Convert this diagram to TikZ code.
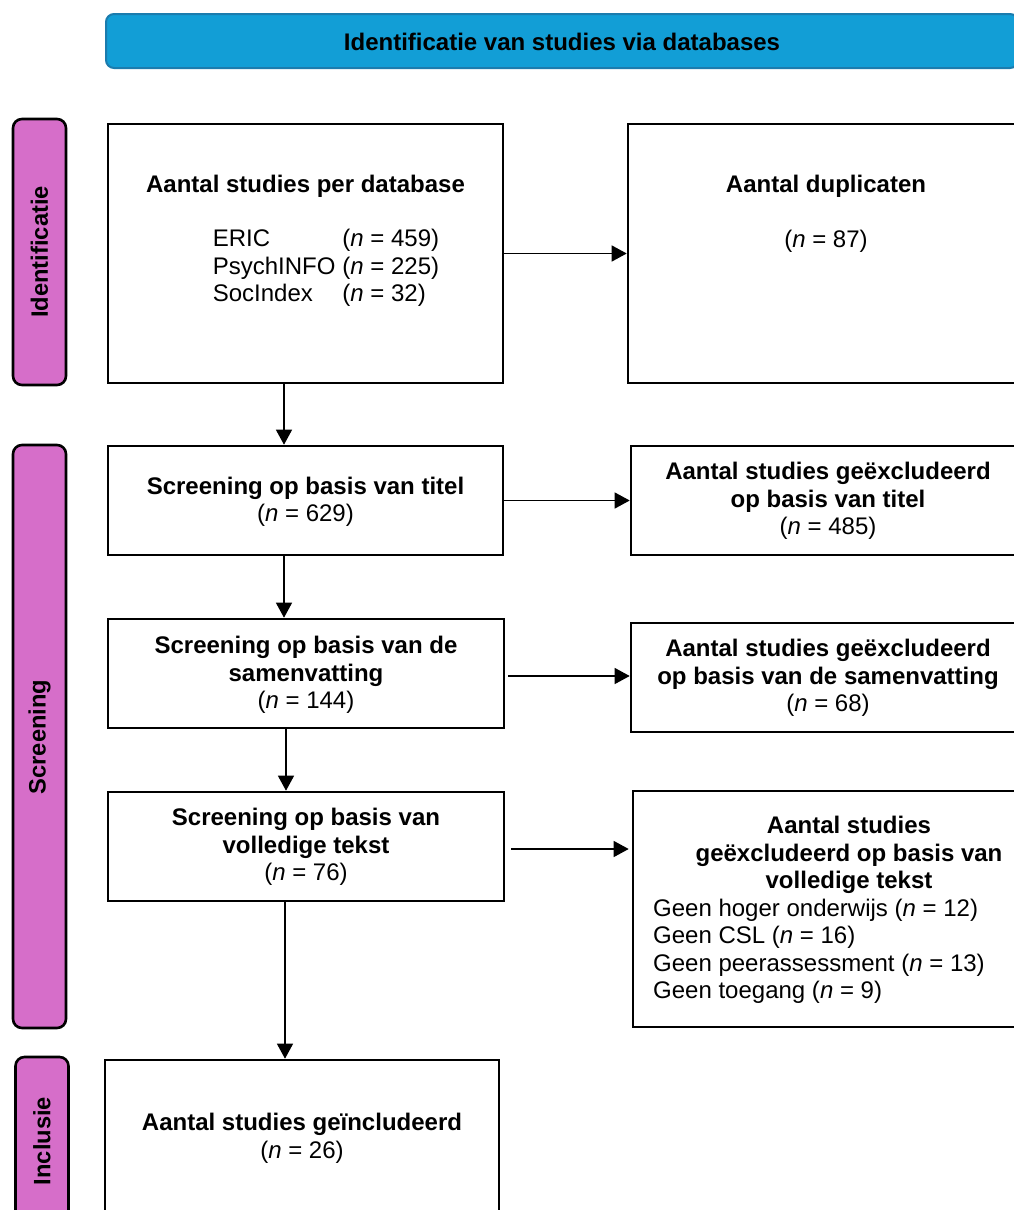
\documentclass[tikz,border=0pt]{standalone}
\usepackage{fontspec}
\setmainfont{Liberation Sans}
\usetikzlibrary{arrows.meta}
\definecolor{bannerblue}{HTML}{129ED6}
\definecolor{bannerline}{HTML}{1B7CAE}
\definecolor{phasefill}{HTML}{D66EC9}
\begin{document}
\begin{tikzpicture}[x=1pt,y=-1pt,
  box/.style={draw=black, line width=2.6pt, inner sep=0pt, fill=white},
  phase/.style={draw=black, line width=2.6pt, fill=phasefill, rounded corners=9pt, inner sep=0pt, minimum width=53pt},
  phasetext/.style={rotate=90, font=\fontsize{23.7}{27}\selectfont\bfseries, inner sep=0pt},
  txt/.style={align=center, inner sep=0pt, font=\fontsize{24}{27.5}\selectfont},
  arr/.style={line width=1.3pt, -{Triangle[length=15pt,width=16pt]}},
]
\useasboundingbox (0,0) rectangle (1014,1210);
\clip (0,0) rectangle (1014,1210);

% banner
\node[draw=bannerline, line width=2pt, fill=bannerblue, rounded corners=8pt,
      minimum width=912pt, minimum height=54pt, inner sep=0pt] (banner) at (562,41) {};
\node[txt, font=\fontsize{24}{27}\selectfont\bfseries] (bannertxt) at (562,42) {Identificatie van studies via databases};

% phase labels
\node[phase, minimum height=266pt] (ph1) at (39.5,252) {};
\node[phasetext] (ph1t) at (39.5,252) {Identificatie};
\node[phase, minimum height=583pt] (ph2) at (39.5,736.5) {};
\node[phasetext] (ph2t) at (39.5,737) {Screening};
\node[phase, minimum height=200pt] (ph3) at (42,1157) {};
\node[phasetext] (ph3t) at (42,1141) {Inclusie};

% left column boxes
\node[box, minimum width=395pt, minimum height=259pt] (b1) at (305.5,253.5) {};
\node[box, minimum width=395pt, minimum height=109pt] (b3) at (305.5,500.5) {};
\node[box, minimum width=396pt, minimum height=109pt] (b4) at (306,673.5) {};
\node[box, minimum width=396pt, minimum height=109pt] (b5) at (306,846.5) {};
\node[box, minimum width=394pt, minimum height=200pt] (b6) at (302,1160) {};

% right column boxes
\node[box, minimum width=396pt, minimum height=259pt] (r1) at (826,253.5) {};
\node[box, minimum width=396pt, minimum height=109pt] (r2) at (829,500.5) {};
\node[box, minimum width=396pt, minimum height=109pt] (r3) at (829,677.5) {};
\node[box, minimum width=396pt, minimum height=236pt] (r4) at (831,909) {};

% texts
\node[txt, font=\fontsize{24}{27.5}\selectfont\bfseries] (b1h) at (305.5,186) {Aantal studies per database};
\node[txt] (b1l) at (326,268.5) {\begin{tabular}{@{}l@{\hspace{7pt}}l@{}}
ERIC & (\textit{n} = 459)\\
PsychINFO & (\textit{n} = 225)\\
SocIndex & (\textit{n} = 32)
\end{tabular}};

\node[txt, font=\fontsize{24}{27.5}\selectfont\bfseries] (r1h) at (826,186) {Aantal duplicaten};
\node[txt] (r1n) at (826,241) {(\textit{n} = 87)};

\node[txt] (b3t) at (305.5,502) {\textbf{Screening op basis van titel}\\(\textit{n} = 629)};
\node[txt] (r2t) at (828,501) {\textbf{Aantal studies geëxcludeerd}\\\textbf{op basis van titel}\\(\textit{n} = 485)};

\node[txt] (b4t) at (306,675) {\textbf{Screening op basis van de}\\\textbf{samenvatting}\\(\textit{n} = 144)};
\node[txt] (r3t) at (828,678) {\textbf{Aantal studies geëxcludeerd}\\\textbf{op basis van de samenvatting}\\(\textit{n} = 68)};

\node[txt] (b5t) at (306,847) {\textbf{Screening op basis van}\\\textbf{volledige tekst}\\(\textit{n} = 76)};
\node[txt, font=\fontsize{24}{27.5}\selectfont\bfseries] (r4h) at (849,855) {Aantal studies\\geëxcludeerd op basis van\\volledige tekst};
\node[txt, align=left, anchor=west] (r4l) at (653,951.5) {Geen hoger onderwijs (\textit{n} = 12)\\Geen CSL (\textit{n} = 16)\\Geen peerassessment (\textit{n} = 13)\\Geen toegang (\textit{n} = 9)};

\node[txt] (b6t) at (302,1138.5) {\textbf{Aantal studies geïncludeerd}\\(\textit{n} = 26)};

% horizontal connectors
\draw[arr] (b1.east) -- (r1.west);
\draw[arr] (b3.east) -- (r2.west);
\draw[arr] ([xshift=3pt,yshift=-2.5pt]b4.east) -- ([yshift=-2.5pt]b4.east -| r3.west);
\draw[arr, shorten >=3pt] ([xshift=6pt,yshift=-2.5pt]b5.east) -- ([yshift=-2.5pt]b5.east -| r4.west);

% vertical connectors
\draw[arr] ([xshift=-21.5pt]b1.south) -- ([xshift=-21.5pt]b1.south |- b3.north);
\draw[arr] ([xshift=-21.5pt]b3.south) -- ([xshift=-21.5pt]b3.south |- b4.north);
\draw[arr] ([xshift=-20pt]b4.south) -- ([xshift=-20pt]b4.south |- b5.north);
\draw[arr] ([xshift=-21pt]b5.south) -- ([xshift=-21pt]b5.south |- b6.north);
\end{tikzpicture}
\end{document}
